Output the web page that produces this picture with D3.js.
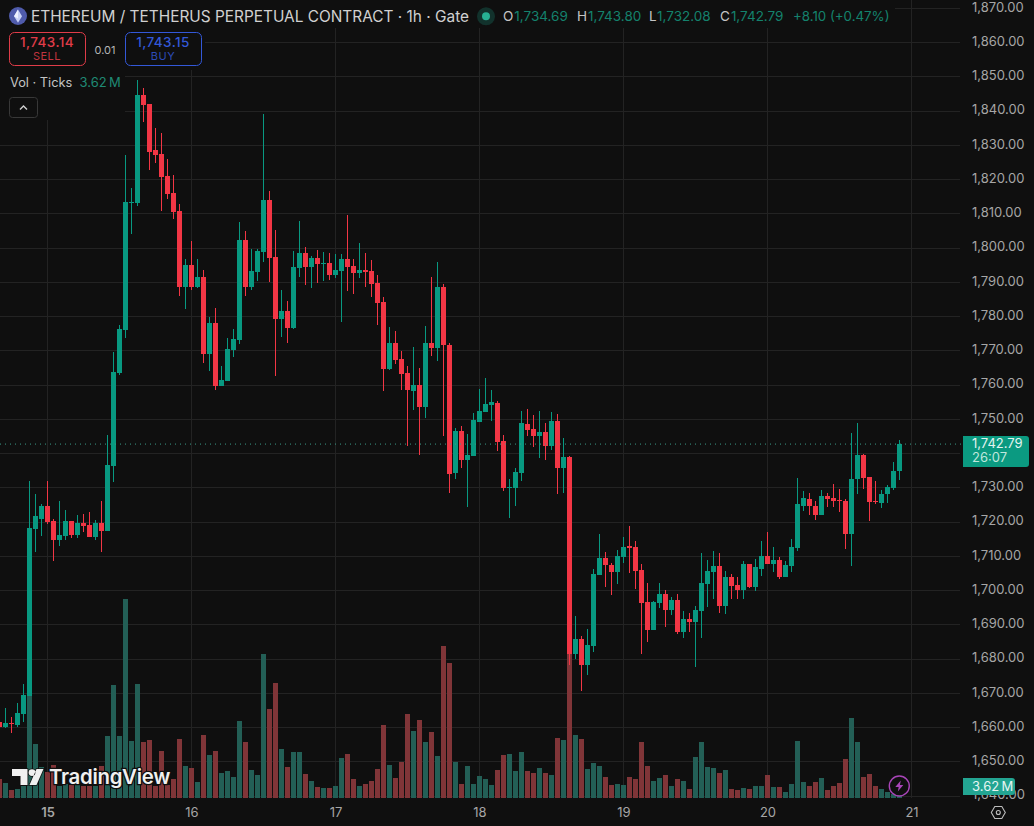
<!DOCTYPE html>
<html>
<head>
<meta charset="utf-8">
<title>ETH/USDT perpetual, 1h</title>
<script src="https://cdn.jsdelivr.net/npm/d3@7/dist/d3.min.js"></script>
<style>
  html, body { margin: 0; padding: 0; background: #0f0f0f; overflow: hidden; }
  svg { display: block; font-family: Inter, "Noto Sans", sans-serif; }
</style>
</head>
<body>
<svg id="chart" width="1034" height="826"></svg>
<script>
// Hourly candles, oldest first. The first bar opens 8 hours before the "15" day mark.
const firstHour = -8;

const opens = [
  1661.6,1660.1,1661.3,1660.7,1663.9,1669.2,1717.7,1720.9,1724.7,1720.1,1714.5,1715.7,1720.1,1716.0,1719.5,1718.9,
  1715.4,1719.5,1717.4,1736.1,1763.3,1775.9,1813.2,1813.0,1844.6,1842.0,1828.5,1827.4,1820.9,1816.0,1810.7,1788.5,
  1794.9,1788.5,1791.4,1768.9,1778.0,1759.5,1761.0,1770.1,1773.0,1802.2,1788.5,1792.9,1798.7,1813.9,1797.3,1779.1,
  1781.5,1776.5,1794.0,1798.4,1794.3,1797.0,1795.4,1795.5,1792.0,1793.2,1796.7,1794.6,1792.6,1793.5,1793.2,1789.7,
  1784.1,1764.5,1772.1,1767.4,1763.3,1758.1,1759.8,1753.4,1772.1,1770.6,1788.5,1771.5,1734.1,1746.4,1737.9,1739.1,
  1749.0,1751.9,1754.0,1754.6,1743.5,1729.8,1729.7,1734.1,1748.4,1747.0,1744.9,1746.1,1742.0,1749.3,1735.6,1738.8,
  1681.2,1685.8,1678.0,1683.8,1704.3,1709.5,1707.2,1705.4,1709.8,1713.0,1712.5,1706.0,1696.4,1688.2,1696.1,1699.0,
  1694.3,1697.0,1687.9,1691.7,1690.8,1694.0,1701.9,1705.4,1706.9,1695.5,1703.7,1701.6,1699.9,1707.5,1700.8,1706.3,
  1710.1,1707.5,1708.9,1703.7,1706.9,1712.2,1724.7,1726.5,1724.7,1721.8,1727.4,1726.8,1726.2,1725.9,1716.3,1732.3,
  1739.6,1732.9,1725.9,1725.3,1728.0,1729.7,1734.69
];
const highs = [
  1663.0,1665.7,1662.8,1667.1,1672.7,1732.0,1728.2,1725.0,1731.8,1720.9,1725.9,1723.3,1720.3,1721.8,1722.1,1722.7,
  1720.6,1725.9,1745.2,1769.5,1777.4,1827.1,1817.4,1849.0,1846.7,1842.0,1835.0,1833.5,1825.9,1821.2,1812.8,1796.7,
  1801.9,1796.7,1793.5,1779.7,1782.3,1765.4,1773.6,1776.2,1807.5,1804.9,1799.6,1799.6,1839.1,1816.6,1805.1,1787.6,
  1784.4,1799.0,1807.8,1800.2,1797.5,1799.3,1798.7,1798.4,1798.1,1798.1,1809.5,1796.7,1801.3,1798.4,1796.4,1792.0,
  1785.6,1776.8,1775.6,1769.8,1765.4,1770.9,1764.8,1777.1,1791.4,1795.8,1789.4,1772.1,1747.3,1747.8,1745.5,1751.6,
  1758.7,1761.9,1758.4,1755.1,1745.2,1732.3,1735.8,1752.2,1752.8,1751.1,1752.2,1748.7,1751.9,1751.3,1744.3,1739.1,
  1692.3,1686.7,1688.5,1706.3,1716.3,1711.0,1707.8,1711.6,1715.4,1718.6,1714.2,1707.5,1702.2,1696.7,1702.2,1699.9,
  1698.1,1699.0,1694.0,1693.2,1695.5,1710.7,1708.9,1711.3,1710.7,1705.7,1704.6,1703.7,1708.4,1707.7,1709.2,1714.2,
  1717.1,1712.5,1709.8,1708.4,1714.8,1732.6,1728.8,1728.5,1725.9,1729.1,1728.5,1730.9,1729.4,1726.5,1745.8,1748.7,
  1739.8,1733.1,1731.8,1729.1,1730.6,1737.3,1743.80
];
const lows = [
  1659.5,1659.8,1658.4,1660.1,1661.6,1669.2,1711.0,1715.7,1719.2,1708.4,1713.0,1714.5,1715.1,1715.1,1717.1,1715.4,
  1714.5,1711.0,1717.4,1731.5,1762.7,1773.6,1804.0,1812.2,1836.7,1822.7,1824.7,1810.7,1814.2,1808.4,1785.8,1782.0,
  1787.6,1788.2,1766.3,1763.9,1758.4,1759.5,1761.0,1768.0,1771.8,1785.8,1787.6,1790.2,1795.8,1789.9,1762.5,1773.9,
  1772.1,1776.2,1791.4,1789.1,1788.2,1789.7,1790.2,1790.5,1791.1,1778.2,1787.3,1786.4,1791.1,1788.5,1785.6,1777.4,
  1758.1,1764.2,1766.0,1758.4,1742.0,1752.5,1739.6,1750.2,1768.3,1766.8,1744.9,1728.5,1732.3,1735.6,1724.4,1739.1,
  1749.0,1751.9,1749.3,1740.5,1728.8,1721.2,1724.7,1731.8,1744.9,1741.7,1738.5,1737.9,1740.8,1728.2,1728.5,1678.2,
  1680.0,1670.4,1675.3,1681.8,1704.3,1700.8,1698.7,1701.9,1707.8,1704.9,1700.2,1681.2,1684.7,1688.2,1694.9,1689.1,
  1692.6,1687.3,1686.1,1687.9,1677.4,1686.1,1695.2,1697.3,1693.4,1692.9,1697.3,1697.3,1697.5,1700.5,1699.6,1704.0,
  1707.5,1705.4,1703.1,1703.7,1705.4,1711.3,1723.0,1721.8,1720.4,1721.8,1724.4,1724.4,1722.7,1711.9,1706.9,1728.2,
  1729.4,1720.1,1725.0,1724.1,1725.3,1729.1,1732.08
];
const closes = [
  1660.1,1661.3,1661.1,1664.2,1669.5,1718.0,1721.5,1724.7,1719.8,1714.5,1716.0,1720.1,1716.0,1719.5,1718.6,1715.4,
  1719.5,1717.4,1736.4,1763.6,1776.2,1813.3,1813.4,1844.6,1841.7,1828.0,1827.1,1820.6,1815.7,1810.4,1788.5,1794.9,
  1788.5,1791.4,1768.9,1778.0,1759.5,1761.3,1770.4,1773.3,1802.2,1788.5,1793.2,1799.0,1813.9,1797.0,1779.1,1781.5,
  1776.5,1794.3,1798.4,1794.3,1797.0,1795.2,1795.6,1792.0,1793.5,1796.7,1794.3,1792.6,1793.5,1792.9,1789.4,1783.8,
  1764.5,1772.1,1767.1,1763.0,1758.4,1759.8,1753.4,1772.1,1770.6,1788.5,1771.5,1733.8,1746.4,1737.9,1739.4,1749.6,
  1752.2,1754.3,1754.9,1743.2,1729.7,1730.1,1734.4,1748.7,1746.7,1744.9,1746.1,1742.0,1749.3,1735.6,1738.8,1681.2,
  1685.8,1678.0,1684.1,1704.6,1709.5,1707.2,1705.4,1710.1,1712.7,1712.2,1705.7,1696.1,1688.2,1696.4,1699.0,1694.3,
  1697.0,1687.9,1691.7,1690.8,1694.3,1702.2,1705.7,1706.9,1695.5,1703.7,1701.3,1699.9,1707.5,1700.8,1706.6,1710.1,
  1707.5,1708.9,1703.7,1707.2,1712.5,1725.0,1726.8,1724.7,1721.8,1727.4,1726.5,1725.9,1725.9,1716.3,1732.3,1739.6,
  1732.6,1725.6,1725.6,1728.2,1730.0,1734.7,1742.79
];
// Tick volume per bar, in millions.
const volumes = [
  13.8,10.9,5.8,6.5,8.7,74.6,39.1,22.5,18.8,23.9,8.7,10.1,9.4,9.4,8.7,8.7,
  8.7,23.2,44.9,81.9,44.9,144.2,41.3,82.6,40.6,42.0,8.7,34.1,9.4,13.8,42.8,23.2,
  21.7,11.6,45.7,31.2,34.1,18.1,19.6,15.2,55.8,40.6,20.3,16.7,104.3,64.5,83.3,35.5,
  22.5,33.3,33.3,17.4,12.3,8.0,7.2,7.2,8.7,29.0,31.9,13.8,8.7,10.1,12.3,21.0,
  52.9,23.9,14.5,26.1,60.9,48.6,56.5,40.6,47.8,30.4,110.1,97.8,26.1,10.1,23.2,10.1,
  15.9,13.8,9.4,20.3,31.2,31.9,19.6,33.3,19.6,18.1,21.7,18.1,16.7,43.5,42.0,104.3,
  45.7,42.8,21.0,25.4,23.2,15.2,9.4,10.1,9.4,15.2,13.8,40.6,23.2,12.3,14.5,16.7,
  8.7,13.8,12.3,6.5,29.7,40.6,22.5,21.7,18.1,20.3,6.5,5.8,7.2,6.5,8.7,8.7,
  16.7,8.0,8.0,4.3,10.1,41.3,11.6,8.7,11.6,14.5,5.8,8.7,10.9,28.3,58.0,40.6,
  15.2,17.4,8.7,6.5,4.3,2.9,3.62
];

const gridPrices = d3.range(1640, 1871, 10);
// The 1,740.00 label sits under the last-price badge, so it stays off the axis.
const priceLabels = gridPrices.filter(p => p !== 1740);
const dayHours = [0, 24, 48, 72, 96, 120, 144];
const dayLabels = ["15", "16", "17", "18", "19", "20", "21"];
const lastPrice = closes[closes.length - 1];
const lastVolume = volumes[volumes.length - 1];

const UP = "#089981", DOWN = "#f23645", UP_VOL = "#235f56", DOWN_VOL = "#803538";
const BG = "#0f0f0f", GRID = "#232323", AXIS_TEXT = "#a6a6a6", PLOT_RIGHT = 960, VOL_BASE = 798;

const svg = d3.select("#chart");
svg.append("rect").attr("width", 1034).attr("height", 826).attr("fill", BG);

const x = d3.scaleLinear().domain([0, 144]).range([47.5, 911.5]);
const y = d3.scaleLinear().domain([1650, 1870]).range([761.3, 8.0]);
const yVol = d3.scaleLinear().domain([0, 100]).range([VOL_BASE, VOL_BASE - 138]);

const bars = closes.map((c, i) => ({
  hour: firstHour + i, o: opens[i], h: highs[i], l: lows[i], c, v: volumes[i], up: c >= opens[i]
}));

// Grid
const grid = svg.append("g").attr("shape-rendering", "crispEdges").attr("stroke", GRID);
grid.selectAll("line.h").data(gridPrices).join("line").attr("class", "h")
  .attr("x1", 0).attr("x2", PLOT_RIGHT)
  .attr("y1", d => Math.round(y(d)) + 0.5).attr("y2", d => Math.round(y(d)) + 0.5);
grid.selectAll("line.v").data(dayHours).join("line").attr("class", "v")
  .attr("x1", d => Math.floor(x(d)) + 0.5).attr("x2", d => Math.floor(x(d)) + 0.5)
  .attr("y1", 0).attr("y2", VOL_BASE);

// Volume sits behind the candles
svg.append("g").attr("shape-rendering", "crispEdges")
  .selectAll("rect").data(bars).join("rect")
  .attr("x", d => Math.floor(x(d.hour)) - 2).attr("width", 5)
  .attr("y", d => yVol(d.v)).attr("height", d => VOL_BASE - yVol(d.v))
  .attr("fill", d => d.up ? UP_VOL : DOWN_VOL);

// Candles
const candles = svg.append("g").attr("shape-rendering", "crispEdges")
  .selectAll("g").data(bars).join("g")
  .attr("fill", d => d.up ? UP : DOWN);
candles.append("rect")
  .attr("x", d => Math.floor(x(d.hour))).attr("width", 1)
  .attr("y", d => y(d.h)).attr("height", d => y(d.l) - y(d.h));
candles.append("rect")
  .attr("x", d => Math.floor(x(d.hour)) - 2).attr("width", 5)
  .attr("y", d => y(Math.max(d.o, d.c)))
  .attr("height", d => Math.max(1, Math.abs(y(d.o) - y(d.c))));

// Last price line
svg.append("line")
  .attr("x1", 0).attr("x2", 963).attr("y1", y(lastPrice) + 0.5).attr("y2", y(lastPrice) + 0.5)
  .attr("stroke", "#3c9c89").attr("stroke-dasharray", "1 4");

// Panels that keep the legend readable over the grid
[[0, 0, 895, 28], [0, 28, 205, 42], [0, 70, 125, 50]].forEach(([rx, ry, w, h]) =>
  svg.append("rect").attr("x", rx).attr("y", ry).attr("width", w).attr("height", h).attr("fill", BG));

// Price axis
const priceAxis = svg.append("g").attr("transform", `translate(972,0)`)
  .call(d3.axisRight(y).tickValues(priceLabels).tickSize(0).tickPadding(0).tickFormat(d3.format(",.2f")));
priceAxis.select(".domain").remove();
priceAxis.selectAll("text").attr("fill", AXIS_TEXT).attr("font-size", 13)
  .attr("font-family", "Inter, sans-serif").attr("dy", "0.25em");

// Time axis
const timeAxis = svg.append("g").attr("transform", `translate(0,805)`)
  .call(d3.axisBottom(x).tickValues(dayHours).tickSize(0).tickPadding(0)
    .tickFormat((d, i) => dayLabels[i]));
timeAxis.select(".domain").remove();
timeAxis.selectAll("text").attr("fill", AXIS_TEXT).attr("font-size", 13)
  .attr("font-family", "Inter, sans-serif").attr("y", 0).attr("dy", "0.95em")
  .attr("font-weight", (d, i) => i === 0 ? 600 : 400);

// Axis badges
const badge = svg.append("g");
badge.append("path")
  .attr("d", "M963,436h63a3,3 0 0 1 3,3v25a3,3 0 0 1 -3,3h-63z").attr("fill", "#0b9a81");
badge.append("text").attr("x", 972).attr("y", 448).attr("font-size", 13)
  .attr("fill", "#e4f4f0").text(d3.format(",.2f")(lastPrice));
badge.append("text").attr("x", 972).attr("y", 462).attr("font-size", 13)
  .attr("fill", "#bfe6dc").text("26:07");

badge.append("path")
  .attr("d", "M963,778h49a3,3 0 0 1 3,3v11a3,3 0 0 1 -3,3h-49z").attr("fill", "#23a592");
badge.append("text").attr("x", 972).attr("y", 791).attr("font-size", 13)
  .attr("fill", "#e6f5f2").text(`${lastVolume.toFixed(2)}\u2009M`);

// Title row
const legend = svg.append("g");
legend.append("circle").attr("cx", 18).attr("cy", 16).attr("r", 9).attr("fill", "#4f5bab");
legend.append("path").attr("d", "M18,9.5L22,16.2L18,22.8L14,16.2Z").attr("fill", "#c9d2f5");
legend.append("path").attr("d", "M18,9.5L18,18.5L14,16.2Z").attr("fill", "#eef1ff");
legend.append("text").attr("x", 31).attr("y", 21.5).attr("font-size", 15.4)
  .attr("fill", "#d1d1d1").text("ETHEREUM / TETHERUS PERPETUAL CONTRACT · 1h · Gate");
legend.append("circle").attr("cx", 486).attr("cy", 16.3).attr("r", 9).attr("fill", "#12322c");
legend.append("circle").attr("cx", 486).attr("cy", 16.3).attr("r", 4).attr("fill", "#27b193");

const ohlc = [
  ["O", "1,734.69", 503], ["H", "1,743.80", 577], ["L", "1,732.08", 649], ["C", "1,742.79", 720]
];
ohlc.forEach(([k, v, px]) => {
  const t = legend.append("text").attr("x", px).attr("y", 21).attr("font-size", 13.5);
  t.append("tspan").attr("fill", "#c4c4c4").text(k);
  t.append("tspan").attr("fill", "#14826d").attr("dx", 1).text(v);
});
legend.append("text").attr("x", 793).attr("y", 21).attr("font-size", 13.3)
  .attr("fill", "#14826d").text("+8.10 (+0.47%)");

// Sell and buy buttons
function tradeButton(bx, w, color, price, label) {
  const g = svg.append("g");
  g.append("rect").attr("x", bx + 0.5).attr("y", 32.5).attr("width", w).attr("height", 33).attr("rx", 5)
    .attr("fill", BG).attr("stroke", color);
  g.append("text").attr("x", bx + w / 2).attr("y", 46.5).attr("text-anchor", "middle")
    .attr("font-size", 13.5).attr("font-weight", 500).attr("letter-spacing", 0.4).attr("fill", color).text(price);
  g.append("text").attr("x", bx + w / 2).attr("y", 60).attr("text-anchor", "middle")
    .attr("font-size", 11).attr("letter-spacing", 0.5).attr("fill", color).attr("fill-opacity", 0.85).text(label);
}
tradeButton(9, 76, "#e03c49", "1,743.14", "SELL");
tradeButton(125, 76, "#3358d8", "1,743.15", "BUY");
svg.append("text").attr("x", 105).attr("y", 54).attr("text-anchor", "middle")
  .attr("font-size", 11).attr("fill", "#b5b5b5").text("0.01");

// Volume legend and collapse control
svg.append("text").attr("x", 10).attr("y", 87).attr("font-size", 12.8)
  .attr("fill", "#c4c4c4").text("Vol · Ticks");
svg.append("text").attr("x", 79.5).attr("y", 87).attr("font-size", 13)
  .attr("fill", "#1f8a74").text(`${lastVolume.toFixed(2)}\u2009M`);
svg.append("rect").attr("x", 9.5).attr("y", 97.5).attr("width", 28).attr("height", 20).attr("rx", 3)
  .attr("fill", BG).attr("stroke", "#383838");
svg.append("path").attr("d", "M20,109.5L23.5,106L27,109.5").attr("fill", "none")
  .attr("stroke", "#d0d0d0").attr("stroke-width", 1.4);

// Watermark
const mark = svg.append("g");
const logoShapes = "M12,769H27.5V785H20.5V776H12Z M32,772.6m-3.4,0a3.4,3.4 0 1 0 6.8,0a3.4,3.4 0 1 0 -6.8,0 M29.5,785L36.5,769H43.5L36.5,785Z";
mark.append("path").attr("d", logoShapes)
  .attr("fill", "#f0f0f0").attr("stroke", "#0f0f0f").attr("stroke-width", 1.5).attr("paint-order", "stroke");
mark.append("text").attr("x", 49).attr("y", 784).attr("font-size", 20.4).attr("font-weight", 600)
  .attr("letter-spacing", -0.3).attr("fill", "#f0f0f0").attr("stroke", "#0f0f0f").attr("stroke-width", 2.5)
  .attr("paint-order", "stroke").text("TradingView");

// Lightning button
const bolt = svg.append("g").attr("transform", "translate(899.3,786)");
bolt.append("circle").attr("r", 10).attr("fill", BG).attr("stroke", "#a845b8").attr("stroke-width", 1.4);
bolt.append("path").attr("d", "M1.5,-5.5L-4,1H-0.6L-1.5,5.5L4,-1H0.6Z").attr("fill", "#a845b8");

// Settings icon
const gear = svg.append("g").attr("transform", "translate(998.3,812.5)")
  .attr("fill", "none").attr("stroke", "#bdbdbd").attr("stroke-width", 1.1);
gear.append("path").attr("d", "M-7,0L-3.5,-6H3.5L7,0L3.5,6H-3.5Z");
gear.append("circle").attr("r", 2);
</script>
</body>
</html>
